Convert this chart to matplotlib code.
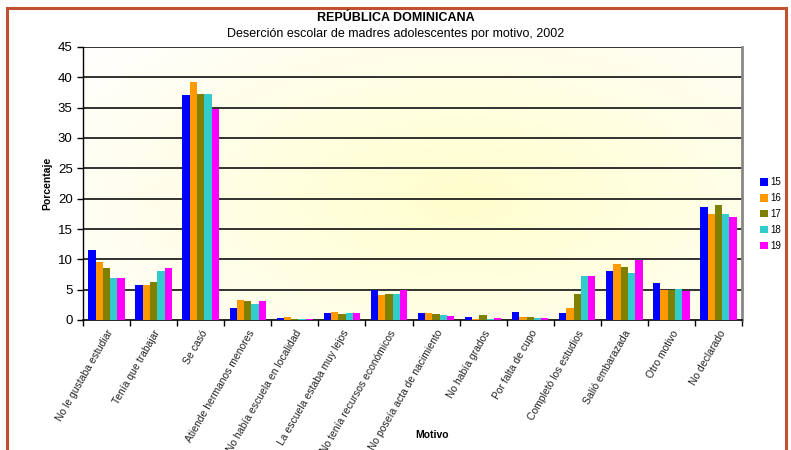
import numpy as np
import matplotlib
matplotlib.use('Agg')
import matplotlib.pyplot as plt
from matplotlib.patches import Rectangle

plt.rcParams['font.family'] = ['Liberation Sans', 'DejaVu Sans']

motivos = ["No le gustaba estudiar", "Tenía que trabajar", "Se casó",
           "Atiende hermanos menores", "No había escuela en localidad",
           "La escuela estaba muy lejos", "No tenía recursos económicos",
           "No poseía acta de nacimiento", "No había grados", "Por falta de cupo",
           "Completó los estudios", "Salió embarazada", "Otro motivo", "No declarado"]
edades = ["15", "16", "17", "18", "19"]
v15 = [11.6, 5.7, 37.1, 1.9, 0.35, 1.15, 4.9, 1.15, 0.5, 1.3, 1.15, 8.0, 6.15, 18.7]
v16 = [9.6, 5.85, 39.3, 3.35, 0.5, 1.4, 4.2, 1.15, 0.17, 0.5, 1.9, 9.3, 5.0, 17.5]
v17 = [8.5, 6.2, 37.3, 3.2, 0.2, 1.0, 4.35, 1.0, 0.85, 0.5, 4.3, 8.75, 4.95, 19.0]
v18 = [6.85, 8.0, 37.3, 2.7, 0.15, 1.15, 4.35, 0.9, 0.17, 0.33, 7.25, 7.8, 5.1, 17.5]
v19 = [6.85, 8.5, 34.8, 3.05, 0.15, 1.15, 5.0, 0.65, 0.33, 0.33, 7.25, 9.85, 4.7, 17.0]
colores = ['#0000FF', '#FF9900', '#808000', '#33CCCC', '#FF00FF']

fig = plt.figure(figsize=(7.91, 4.5), dpi=100)
ax = fig.add_axes([83 / 791, 1 - 320 / 450, 659 / 791, 273 / 450])

# fondo degradado del área de trazado
xx, yy = np.meshgrid(np.linspace(0, 1, 300), np.linspace(0, 1, 200))
r = np.sqrt(((xx - 0.58) / 0.75) ** 2 + ((yy - 0.55) / 0.9) ** 2)
t = np.clip(r, 0, 1)
img = np.ones((200, 300, 3))
img[..., 2] = 0.80 + 0.20 * t
img[..., 1] = 1.0 - 0.005 * (1 - t)
ax.imshow(img, extent=[0, 1, 0, 1], transform=ax.transAxes, aspect='auto', zorder=0)

x = np.arange(len(motivos))
ancho = 0.155
series = [v15, v16, v17, v18, v19]
for i, (vals, c, lab) in enumerate(zip(series, colores, edades)):
    ax.bar(x + (i - 2) * ancho, vals, ancho, color=c, label=lab, zorder=3)

ax.set_xlim(-0.5, len(motivos) - 0.5)
ax.set_ylim(0, 45)
ax.set_yticks(range(0, 50, 5))
for yv in range(5, 50, 5):
    ax.axhline(yv, color='#222222', lw=1.3, zorder=1)
ax.set_xticks(np.arange(-0.5, len(motivos), 1.0))
ax.set_xticklabels([])
ax.set_xticks(x, minor=True)
ax.set_xticklabels(motivos, minor=True, rotation=60, ha='right', rotation_mode='anchor',
                   fontsize=7.5, color='#222222')
ax.tick_params(axis='x', which='minor', length=0, pad=6)
ax.tick_params(axis='x', which='major', length=4, direction='out', width=1)
ax.tick_params(axis='y', length=4, direction='out', labelsize=9.5, width=1)

ax.spines['top'].set_visible(False)
ax.spines['right'].set_color('#888888')
ax.spines['right'].set_linewidth(2)
ax.spines['left'].set_linewidth(1)
ax.spines['bottom'].set_linewidth(1.2)

ax.set_ylabel('Porcentaje', fontsize=7.5, fontweight='bold', labelpad=4)
fig.text(432 / 791, 1 - 435 / 450, 'Motivo', fontsize=7.5, fontweight='bold', ha='center', va='center')

fig.text(0.5, 1 - 18 / 450, 'REPÚBLICA DOMINICANA', fontsize=9, fontweight='bold', ha='center', va='center')
fig.text(0.5, 1 - 34 / 450, 'Deserción escolar de madres adolescentes por motivo, 2002', fontsize=9,
         ha='center', va='center')

leg = fig.legend(loc='center left', bbox_to_anchor=(755 / 791, 1 - 214 / 450), frameon=False,
                 fontsize=7, handlelength=0.8, handleheight=0.8, handletextpad=0.3,
                 labelspacing=0.6, borderpad=0)

# marco naranja de la figura
fig.patches.append(Rectangle((7 / 791, -0.05), 779 / 791, 1.05 - 8 / 450, transform=fig.transFigure,
                             fill=False, edgecolor='#C0522F', lw=2.2))

fig.savefig('out.png', dpi=100)
